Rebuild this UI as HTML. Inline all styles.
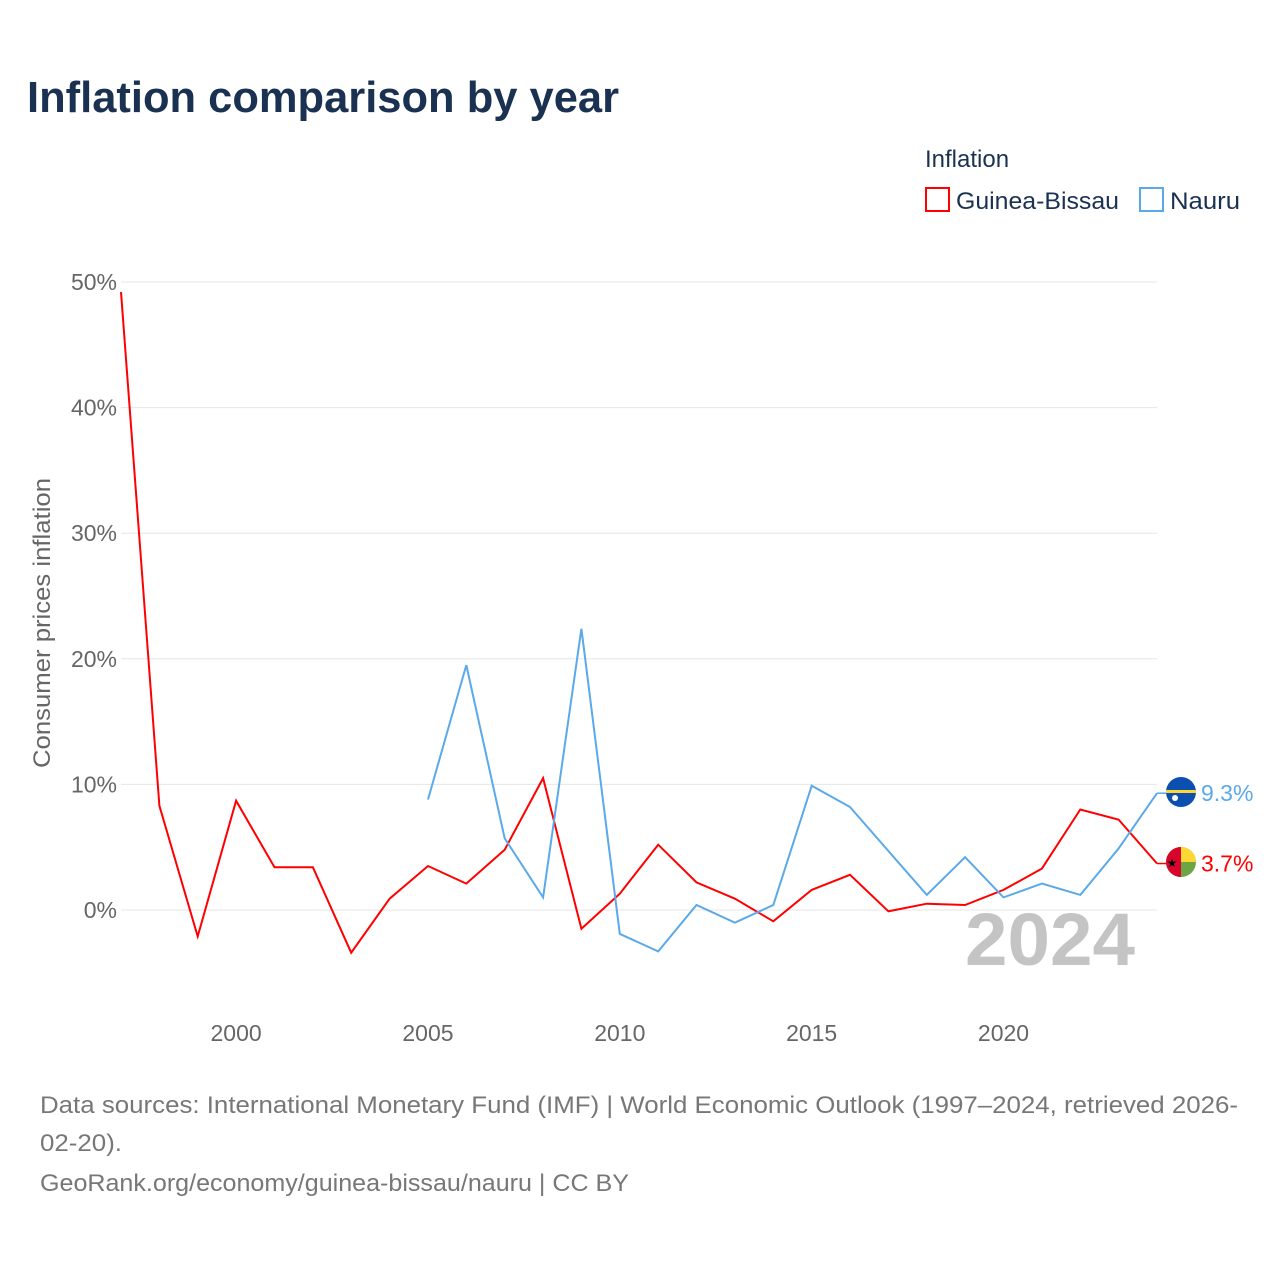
<!DOCTYPE html>
<html><head><meta charset="utf-8"><style>
body{margin:0;width:1280px;height:1280px;background:#fff;font-family:"Liberation Sans",sans-serif;overflow:hidden}
svg text{font-family:"Liberation Sans",sans-serif}
</style></head><body>
<svg id="chart" width="1280" height="1280" xmlns="http://www.w3.org/2000/svg">
<text x="27" y="112" font-size="44" font-weight="bold" fill="#1a3152" textLength="592" lengthAdjust="spacingAndGlyphs">Inflation comparison by year</text>
<text x="925" y="167" font-size="24" fill="#1a3152">Inflation</text>
<g><rect x="926" y="188" width="23" height="23" fill="none" stroke="#f00" stroke-width="2"/><text x="956" y="209" font-size="24" fill="#1a3152" textLength="163" lengthAdjust="spacingAndGlyphs">Guinea-Bissau</text></g>
<g><rect x="1140" y="188" width="23" height="23" fill="none" stroke="#5aa9ea" stroke-width="2"/><text x="1170" y="209" font-size="24" fill="#1a3152" textLength="70" lengthAdjust="spacingAndGlyphs">Nauru</text></g>
<text transform="translate(50,623) rotate(-90)" text-anchor="middle" font-size="24" fill="#666" textLength="290" lengthAdjust="spacingAndGlyphs">Consumer prices inflation</text>
<g id="grid"></g><g id="series"></g>
<text x="1135" y="965" text-anchor="end" font-size="74" font-weight="bold" fill="#c4c4c4" textLength="170" lengthAdjust="spacingAndGlyphs">2024</text>
<g><clipPath id="cn"><circle cx="1181" cy="792" r="15"/></clipPath><g clip-path="url(#cn)"><rect x="1166" y="777" width="30" height="30" fill="#0b4fb0"/><rect x="1166" y="790" width="30" height="3" fill="#fdd835"/><circle cx="1175" cy="798" r="3" fill="#fff"/></g></g>
<g><clipPath id="cg"><circle cx="1181" cy="862" r="15"/></clipPath><g clip-path="url(#cg)"><rect x="1166" y="847" width="30" height="30" fill="#6ea544"/><rect x="1181" y="847" width="15" height="15" fill="#fdd835"/><rect x="1166" y="847" width="15" height="30" fill="#d9042b"/><text x="1172" y="867" font-size="12" fill="#000" text-anchor="middle">★</text></g></g>
<text x="40" y="1113" font-size="24" fill="#777" textLength="1198" lengthAdjust="spacingAndGlyphs">Data sources: International Monetary Fund (IMF) | World Economic Outlook (1997–2024, retrieved 2026-</text>
<text x="40" y="1151" font-size="24" fill="#777" textLength="82" lengthAdjust="spacingAndGlyphs">02-20).</text>
<text x="40" y="1191" font-size="24" fill="#777" textLength="589" lengthAdjust="spacingAndGlyphs">GeoRank.org/economy/guinea-bissau/nauru | CC BY</text>
</svg>
<script>
const years=[1997,1998,1999,2000,2001,2002,2003,2004,2005,2006,2007,2008,2009,2010,2011,2012,2013,2014,2015,2016,2017,2018,2019,2020,2021,2022,2023,2024];
const guineaBissau=[49.2,8.3,-2.1,8.7,3.4,3.4,-3.4,0.9,3.5,2.1,4.8,10.5,-1.5,1.3,5.2,2.2,0.9,-0.9,1.6,2.8,-0.1,0.5,0.4,1.6,3.3,8.0,7.2,3.7];
const nauru=[null,null,null,null,null,null,null,null,8.8,19.5,5.7,1.0,22.4,-1.9,-3.3,0.4,-1.0,0.4,9.9,8.2,4.7,1.2,4.2,1.0,2.1,1.2,4.9,9.3];
const yTicks=[0,10,20,30,40,50];
const xTicks=[2000,2005,2010,2015,2020];
const NS='http://www.w3.org/2000/svg';
const x=y=>121+(y-1997)*38.37;
const yS=v=>910-v*12.56;
function mk(t,a,p){const e=document.createElementNS(NS,t);for(const k in a)e.setAttribute(k,a[k]);p.appendChild(e);return e;}
const g=document.getElementById('grid'),s=document.getElementById('series');
yTicks.forEach(v=>{
 const l=mk('line',{x1:121,x2:1157,y1:yS(v),y2:yS(v),stroke:'#e6e6e6','stroke-width':1},g);
 
 
 const t=mk('text',{x:117,y:yS(v)+8,'text-anchor':'end','font-size':23,fill:'#666'},g);t.textContent=v+'%';
 
 
});
xTicks.forEach(v=>{
 const t=mk('text',{x:x(v),y:1041,'text-anchor':'middle','font-size':23,fill:'#666'},g);t.textContent=v;
 
 
});
function line(vals,col,name){
 const pts=[];vals.forEach((v,i)=>{if(v!==null)pts.push(x(years[i]).toFixed(1)+','+yS(v).toFixed(1));});
 const p=mk('polyline',{points:pts.join(' '),fill:'none',stroke:col,'stroke-width':2,'stroke-linejoin':'miter'},s);
 
 
 const last=vals[vals.length-1],ly=yS(last);
 const c=mk('line',{x1:x(2024),x2:1166,y1:ly,y2:ly,stroke:col,'stroke-width':1.5},s);
 
 
 const t=mk('text',{x:1201,y:ly+8,'font-size':23,fill:col},s);t.textContent=last.toFixed(1)+'%';
 
 
}
line(guineaBissau,'#f00','guinea-bissau-line');
line(nauru,'#5aa9ea','nauru-line');
</script>
</body></html>
